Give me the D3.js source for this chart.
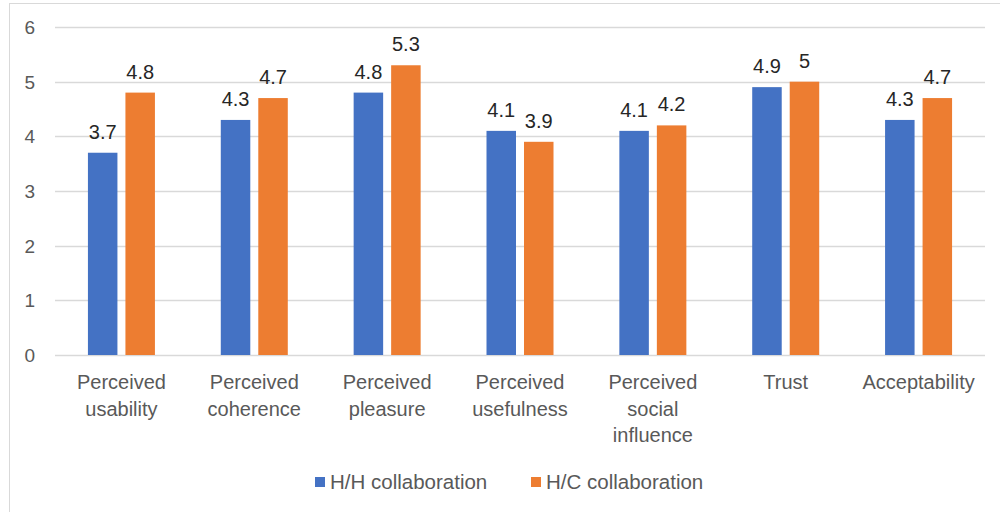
<!DOCTYPE html>
<html><head><meta charset="utf-8">
<script src="https://cdn.jsdelivr.net/npm/d3@7"></script>
<style>body{margin:0;background:#fff}svg{display:block}
svg text{font-family:"Liberation Sans",Arial,sans-serif !important;}</style>
</head><body>
<svg id="c" width="1000" height="512"></svg>
<script>
const categories = [["Perceived","usability"],["Perceived","coherence"],["Perceived","pleasure"],["Perceived","usefulness"],["Perceived","social","influence"],["Trust"],["Acceptability"]];
const seriesNames = ["H/H collaboration","H/C collaboration"];
const hhValues = [3.7,4.3,4.8,4.1,4.1,4.9,4.3];
const hcValues = [4.8,4.7,5.3,3.9,4.2,5.0,4.7];
const hcLabels = ["4.8","4.7","5.3","3.9","4.2","5","4.7"];
const hhLabels = ["3.7","4.3","4.8","4.1","4.1","4.9","4.3"];
const yTicks = [0,1,2,3,4,5,6];
const colors = ["#4472C4","#ED7D31"];

(function(){
const svg = d3.select("#c");
svg.append("rect").attr("x",9.5).attr("y",3.5).attr("width",1000).attr("height",520)
  .attr("fill","none").attr("stroke","#D9D9D9");

const pL=55,pR=985,pT=27,pB=355;
const x = d3.scaleBand().domain(d3.range(categories.length)).range([pL,pR]);
const y = d3.scaleLinear().domain([0,6]).range([pB,pT]);

svg.selectAll("line.grid").data(yTicks).join("line").attr("class","grid")
  .attr("x1",pL).attr("x2",pR)
  .attr("y1",d=>Math.round(y(d))+0.5).attr("y2",d=>Math.round(y(d))+0.5)
  .attr("stroke","#D9D9D9").attr("stroke-width",1.3);

const yAxis = d3.axisLeft(y).tickValues(yTicks).tickFormat(d3.format("d")).tickSize(0).tickPadding(0);
const ya = svg.append("g").attr("transform",`translate(35,0)`).call(yAxis);
ya.select(".domain").remove();
ya.selectAll("text").attr("font-size",19).attr("fill","#595959").attr("dy","0.34em");

const series = [hhValues,hcValues];
const labels = [hhLabels,hcLabels];
const barW = 29.5, gap = 8;
series.forEach((vals,si)=>{
  const off = si===0 ? -gap/2-barW : gap/2;
  svg.append("g").selectAll("rect").data(vals).join("rect")
    .attr("x",(d,i)=>x(i)+x.bandwidth()/2+off)
    .attr("y",d=>y(d)).attr("width",barW).attr("height",d=>y(0)-y(d))
    .attr("fill",colors[si]);
  svg.append("g").selectAll("text").data(vals).join("text")
    .attr("x",(d,i)=>x(i)+x.bandwidth()/2+off+barW/2)
    .attr("y",d=>y(d)-14)
    .attr("text-anchor","middle").attr("font-size",20).attr("fill","#262626")
    .text((d,i)=>labels[si][i]);
});

const xAxis = d3.axisBottom(x).tickSize(0).tickFormat("");
const xa = svg.append("g").attr("transform",`translate(0,${pB})`).call(xAxis);
xa.select(".domain").remove();
xa.selectAll(".tick").each(function(d){
  const t = d3.select(this).append("text").attr("text-anchor","middle")
    .attr("font-size",20).attr("fill","#595959");
  categories[d].forEach((line,k)=>{
    t.append("tspan").attr("x",0).attr("y",34+k*26.5).text(line);
  });
});

const legendX = [315,531];
seriesNames.forEach((n,i)=>{
  svg.append("rect").attr("x",legendX[i]).attr("y",477).attr("width",10).attr("height",10).attr("fill",colors[i]);
  svg.append("text").attr("x",legendX[i]+15).attr("y",489).attr("font-size",20.5)
    .attr("fill","#595959").text(n);
});
})();
</script>
</body></html>
